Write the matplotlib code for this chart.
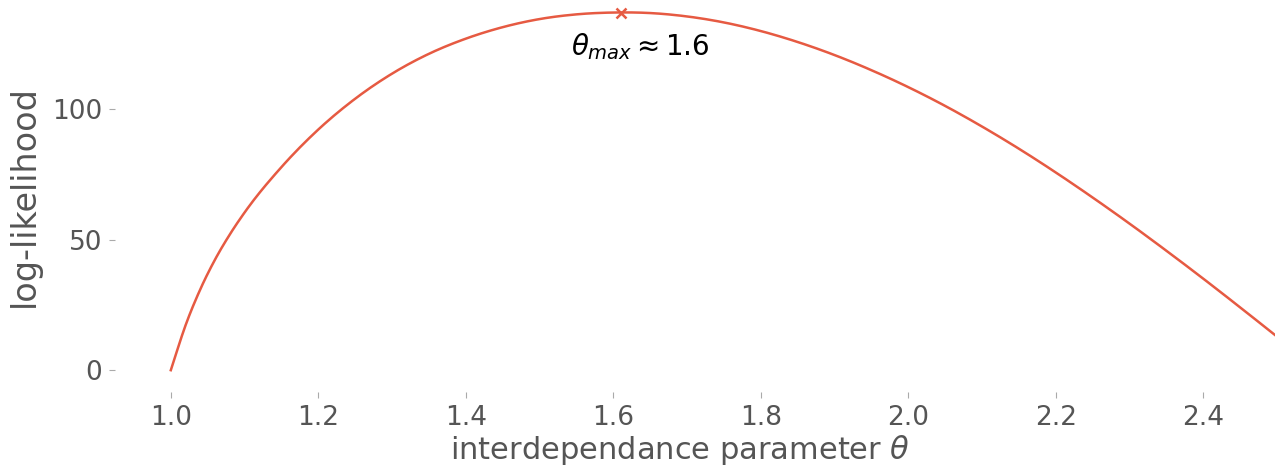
import matplotlib
matplotlib.use('Agg')
import matplotlib.pyplot as plt

# log-likelihood
theta = [1.00, 1.02, 1.04, 1.06, 1.08, 1.10,
         1.15, 1.20, 1.25, 1.30, 1.35, 1.40, 1.45, 1.50, 1.55,
         1.60, 1.65, 1.70, 1.75, 1.80, 1.85, 1.90, 1.95, 2.00, 2.05,
         2.10, 2.15, 2.20, 2.25, 2.30, 2.35, 2.40, 2.45, 2.50]
loglik = [0.0, 17.2, 31.0, 42.4, 52.0, 60.4,
          77.8, 92.2, 104.0, 113.6, 121.2, 127.0, 131.4, 134.5, 136.3,
          137.0, 136.8, 135.5, 133.2, 129.9, 125.7, 120.7, 114.9, 108.4, 101.2,
          93.3, 84.8, 75.7, 66.1, 56.1, 45.7, 35.0, 24.0, 12.8]
theta_max = 1.61
loglik_max = 137.0

line_color = '#E65A42'
grey = '#555555'


def smooth(x, y, steps=12):
    # cubic hermite through the points, slopes from neighbours (uneven spacing ok)
    n = len(x)
    d = [(y[i + 1] - y[i]) / (x[i + 1] - x[i]) for i in range(n - 1)]
    m = [d[0]]
    for i in range(1, n - 1):
        h0, h1 = x[i] - x[i - 1], x[i + 1] - x[i]
        m.append((h1 * d[i - 1] + h0 * d[i]) / (h0 + h1))
    m.append(d[-1])
    xs, ys = [], []
    for i in range(n - 1):
        h = x[i + 1] - x[i]
        for k in range(steps):
            t = k / steps
            h00 = 2 * t**3 - 3 * t**2 + 1
            h10 = t**3 - 2 * t**2 + t
            h01 = -2 * t**3 + 3 * t**2
            h11 = t**3 - t**2
            xs.append(x[i] + t * h)
            ys.append(h00 * y[i] + h10 * h * m[i] + h01 * y[i + 1] + h11 * h * m[i + 1])
    xs.append(x[-1])
    ys.append(y[-1])
    return xs, ys


fig = plt.figure(figsize=(12.75, 4.73), dpi=100)
ax = fig.add_axes([0.090, 0.171, 0.91, 0.829])

xs, ys = smooth(theta, loglik)
ax.plot(xs, ys, color=line_color, lw=1.8)
ax.plot([theta_max], [loglik_max], marker='x', color=line_color,
        markersize=7, mew=1.8, ls='none')
ax.text(1.636, 129.9, r'$\theta_{max} \approx 1.6$', ha='center', va='top',
        fontsize=20, color='black')

ax.set_xlim(0.924, 2.497)
ax.set_ylim(-8.4, 141.8)
ax.set_xticks([1.0, 1.2, 1.4, 1.6, 1.8, 2.0, 2.2, 2.4])
ax.set_yticks([0, 50, 100])

for s in ax.spines.values():
    s.set_visible(False)
ax.tick_params(colors='#aaaaaa', labelcolor=grey, labelsize=19,
               length=4, width=0.8, pad=5)
ax.set_xlabel(r'interdependance parameter $\theta$', fontsize=22, color=grey)
ax.xaxis.set_label_coords(0.487, -0.105)
ax.set_ylabel('log-likelihood', fontsize=24, color=grey, labelpad=8)

fig.savefig('out.png', dpi=100)
